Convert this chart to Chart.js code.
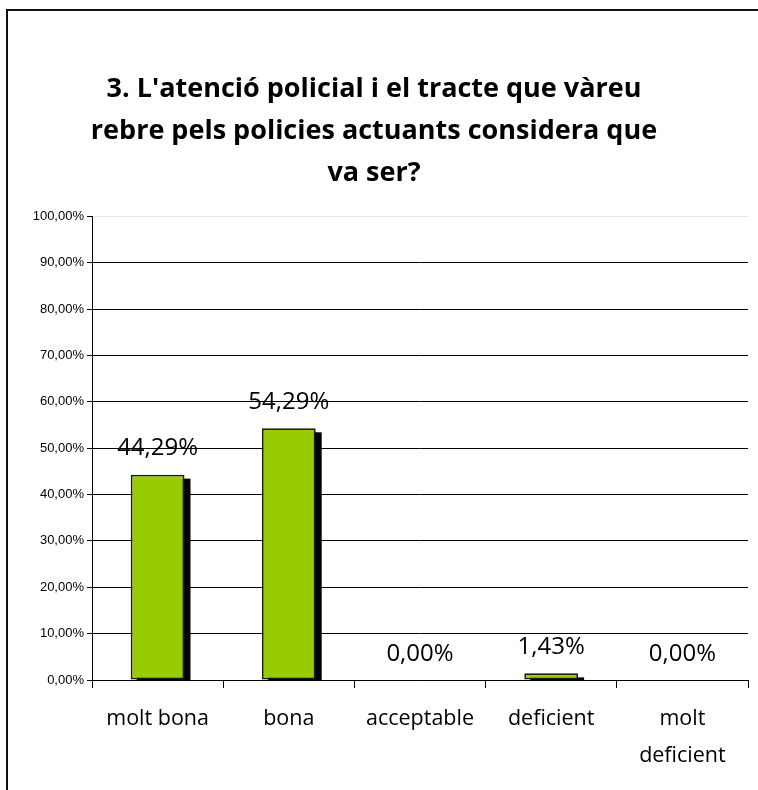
<!DOCTYPE html>
<html>
<head>
<meta charset="utf-8">
<script src="https://cdn.jsdelivr.net/npm/chart.js@4"></script>
<style>
  body { margin: 0; background: #fff; }
  canvas { display: block; }
</style>
</head>
<body>
<canvas id="survey-chart" width="758" height="790"></canvas>
<script>
var titleLines = ["3. L'atenció policial i el tracte que vàreu", "rebre pels policies actuants considera que", "va ser?"];
var categories = ['molt bona', 'bona', 'acceptable', 'deficient', ['molt', 'deficient']];
var percentages = [44.29, 54.29, 0, 1.43, 0];
var yMax = 100;
var yStep = 10;

function pct(v) {
    return v.toFixed(2).replace('.', ',') + '%';
}

// frame on the top and left edges, like the cropped original
var framePlugin = {
    id: 'frame',
    beforeDraw: function (chart) {
        var ctx = chart.ctx;
        ctx.save();
        ctx.strokeStyle = '#111';
        ctx.lineWidth = 2;
        ctx.beginPath();
        ctx.moveTo(7, chart.height);
        ctx.lineTo(7, 10);
        ctx.lineTo(chart.width, 10);
        ctx.stroke();
        ctx.restore();
    }
};

// hard black drop shadow behind the bars (bar elements clip their own shadow)
var shadowPlugin = {
    id: 'barShadow',
    beforeDatasetsDraw: function (chart) {
        var ctx = chart.ctx;
        var area = chart.chartArea;
        var meta = chart.getDatasetMeta(0);
        ctx.save();
        ctx.beginPath();
        ctx.rect(area.left, area.top - 50, area.right - area.left, area.bottom - area.top + 50);
        ctx.clip();
        ctx.fillStyle = '#000';
        meta.data.forEach(function (bar) {
            var p = bar.getProps(['x', 'y', 'base', 'width'], true);
            if (p.base - p.y < 1) return;
            ctx.fillRect(p.x - p.width / 2 + 6, p.y + 4, p.width, p.base - p.y);
        });
        ctx.restore();
    }
};

var valueLabels = {
    id: 'valueLabels',
    afterDatasetsDraw: function (chart) {
        var ctx = chart.ctx;
        var meta = chart.getDatasetMeta(0);
        ctx.save();
        ctx.font = '24px "Open Sans"';
        ctx.fillStyle = '#000';
        ctx.textAlign = 'center';
        ctx.textBaseline = 'middle';
        meta.data.forEach(function (bar, i) {
            ctx.fillText(pct(percentages[i]), bar.x, bar.y - 26);
        });
        ctx.restore();
    }
};

new Chart(document.getElementById('survey-chart'), {
    type: 'bar',
    data: {
        labels: categories,
        datasets: [{
            data: percentages,
            backgroundColor: '#99cc00',
            borderColor: '#1a1a1a',
            borderWidth: 1.8,
            borderSkipped: false,
            categoryPercentage: 1,
            barPercentage: 0.41
        }]
    },
    options: {
        responsive: false,
        animation: false,
        layout: { padding: { left: 0, right: 10, top: 0, bottom: 0 } },
        plugins: {
            legend: { display: false },
            tooltip: { enabled: false },
            title: {
                display: true,
                text: titleLines,
                color: '#000',
                font: { family: 'Open Sans', size: 27, weight: 'bold', lineHeight: 1.56 },
                padding: { top: 68, bottom: 22 }
            }
        },
        scales: {
            x: {
                grid: { offset: true, drawOnChartArea: false, color: '#000', tickLength: 8 },
                border: { color: '#000', width: 1 },
                ticks: {
                    color: '#000',
                    font: { family: 'Open Sans', size: 21.5, lineHeight: 1.7 },
                    padding: 13,
                    maxRotation: 0
                },
                afterFit: function (s) { s.height = 110; }
            },
            y: {
                min: 0,
                max: yMax,
                ticks: {
                    stepSize: yStep,
                    color: '#000',
                    font: { family: 'Liberation Sans', size: 13 },
                    padding: 3,
                    callback: function (v) { return pct(v); }
                },
                grid: {
                    color: function (c) { return c.tick && c.tick.value === yMax ? '#e4e4e4' : '#000'; },
                    tickColor: '#000',
                    tickLength: 5
                },
                border: { color: '#000', width: 1 },
                afterFit: function (s) { s.width = 92; }
            }
        }
    },
    plugins: [framePlugin, shadowPlugin, valueLabels]
});
</script>
</body>
</html>
